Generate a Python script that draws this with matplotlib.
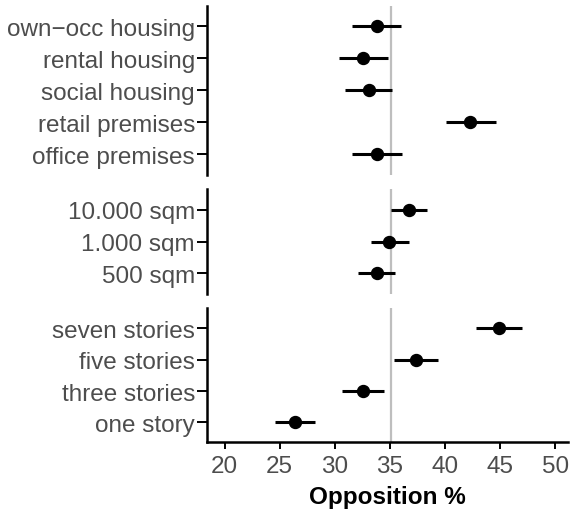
import matplotlib.pyplot as plt
import numpy as np

plt.rcParams["font.family"] = ["Liberation Sans", "DejaVu Sans"]

# opposition estimates with 95% intervals, one list per panel (bottom to top)
use_labels = ["office premises", "retail premises", "social housing",
              "rental housing", "own\u2212occ housing"]
use_est = [33.85, 42.3, 33.1, 32.6, 33.8]
use_lo = [31.6, 40.1, 30.9, 30.4, 31.6]
use_hi = [36.1, 44.6, 35.2, 34.8, 36.0]

size_labels = ["500 sqm", "1.000 sqm", "10.000 sqm"]
size_est = [33.8, 34.9, 36.7]
size_lo = [32.1, 33.3, 35.1]
size_hi = [35.5, 36.7, 38.4]

height_labels = ["one story", "three stories", "five stories", "seven stories"]
height_est = [26.4, 32.6, 37.4, 44.9]
height_lo = [24.6, 30.7, 35.4, 42.85]
height_hi = [28.2, 34.5, 39.4, 47.0]

baseline = 35.1

panels = [
    (use_labels, use_est, use_lo, use_hi),
    (size_labels, size_est, size_lo, size_hi),
    (height_labels, height_est, height_lo, height_hi),
]

fig = plt.figure(figsize=(5.7, 5.1), dpi=100)
gs = fig.add_gridspec(3, 1, height_ratios=[170, 105, 135], hspace=0.11,
                      left=0.363, right=0.997, top=0.986, bottom=0.131)

grey = "#4d4d4d"
for i, (labels, est, lo, hi) in enumerate(panels):
    ax = fig.add_subplot(gs[i])
    y = np.arange(len(labels))
    est = np.array(est)
    ax.axvline(baseline, color="#bebebe", lw=1.6, zorder=1)
    ax.errorbar(est, y, xerr=[est - np.array(lo), np.array(hi) - est],
                fmt="o", color="black", ms=8.6, elinewidth=2.2, capsize=0,
                zorder=3)
    ax.set_ylim(-0.63, len(labels) - 1 + 0.63)
    ax.set_xlim(18.4, 51.2)
    ax.set_yticks(y)
    ax.set_yticklabels(labels)
    for s in ["top", "right"]:
        ax.spines[s].set_visible(False)
    ax.spines["left"].set_linewidth(1.8)
    ax.tick_params(axis="y", length=7, width=1.4, labelsize=17.5,
                   labelcolor=grey, pad=1.5)
    if i < 2:
        ax.spines["bottom"].set_visible(False)
        ax.set_xticks([])
    else:
        ax.spines["bottom"].set_linewidth(1.8)
        ax.set_xticks([20, 25, 30, 35, 40, 45, 50])
        ax.tick_params(axis="x", length=5, width=1.4, labelsize=17.5,
                       labelcolor=grey, pad=4)
        ax.set_xlabel("Opposition %", fontsize=17.5, fontweight="bold",
                      labelpad=6)

plt.savefig("out.png", dpi=100)
plt.close()
